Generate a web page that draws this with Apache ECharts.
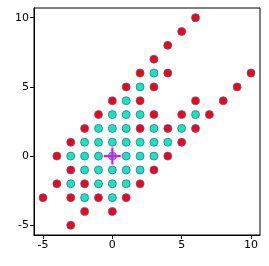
<!DOCTYPE html>
<html><head><meta charset="utf-8">
<script src="https://cdn.jsdelivr.net/npm/echarts@6/dist/echarts.min.js"></script>
<style>html,body{margin:0;padding:0;background:#fff}#c{width:269px;height:266px}</style>
</head><body><div id="c"></div>
<script>
// Red (boundary) points [x, y]
const redPoints = [
  [6,10],[5,9],[4,8],[3,7],
  [2,6],[4,6],[10,6],
  [1,5],[3,5],[9,5],
  [0,4],[2,4],[6,4],[8,4],
  [-1,3],[3,3],[5,3],[7,3],
  [-2,2],[2,2],[4,2],[6,2],
  [-3,1],[5,1],
  [-4,0],[4,0],
  [-3,-1],[3,-1],
  [-4,-2],[-2,-2],[2,-2],
  [-5,-3],[-3,-3],[-1,-3],[1,-3],
  [-2,-4],[0,-4],
  [-3,-5]
];
// Cyan (interior) points [x, y]
const cyanPoints = [
  [3,6],
  [2,5],
  [1,4],
  [0,3],[1,3],[2,3],[6,3],
  [-1,2],[0,2],[1,2],[3,2],[5,2],
  [-2,1],[-1,1],[0,1],[1,1],[2,1],[3,1],[4,1],
  [-3,0],[-2,0],[-1,0],[0,0],[1,0],[2,0],[3,0],
  [-2,-1],[-1,-1],[0,-1],[1,-1],[2,-1],
  [-3,-2],[-1,-2],[0,-2],[1,-2],
  [-2,-3],[0,-3]
];
const originPoint = [[0,0]];
const xTicks = [-5,0,5,10];
const yTicks = [-5,0,5,10];

const chart = echarts.init(document.getElementById('c'), null, {renderer:'canvas'});
const font = {fontFamily:'DejaVu Sans', fontSize:11, color:'#000'};
const axisCommon = {
  type:'value',
  splitLine:{show:false},
  axisLine:{show:true, onZero:false, lineStyle:{color:'#000', width:1}},
};
chart.setOption({
  animation:false,
  grid:{left:34, right:9, top:8, bottom:31, show:true, borderColor:'#000', borderWidth:1, backgroundColor:'#fff'},
  xAxis:{...axisCommon, min:-5.65, max:10.65,
    axisTick:{show:true, length:4, customValues:xTicks, lineStyle:{color:'#000'}},
    axisLabel:{...font, margin:5, customValues:xTicks}},
  yAxis:{...axisCommon, min:-5.7, max:10.7,
    axisTick:{show:true, length:4, customValues:yTicks, lineStyle:{color:'#000'}},
    axisLabel:{...font, margin:5, customValues:yTicks}},
  series:[
    {type:'scatter', data:redPoints, symbolSize:8,
      itemStyle:{color:'#ff0000', borderColor:'#3f5fe0', borderWidth:0.8, opacity:1}},
    {type:'scatter', data:cyanPoints, symbolSize:8,
      itemStyle:{color:'#12eab0', borderColor:'#3f5fe0', borderWidth:0.8, opacity:1}},
    {type:'scatter', data:originPoint, symbolSize:17, z:5,
      symbol:'path://M7,0 H9 V7 H16 V9 H9 V16 H7 V9 H0 V7 H7 Z',
      itemStyle:{color:'#ff00ff', opacity:1}}
  ]
});
</script></body></html>
